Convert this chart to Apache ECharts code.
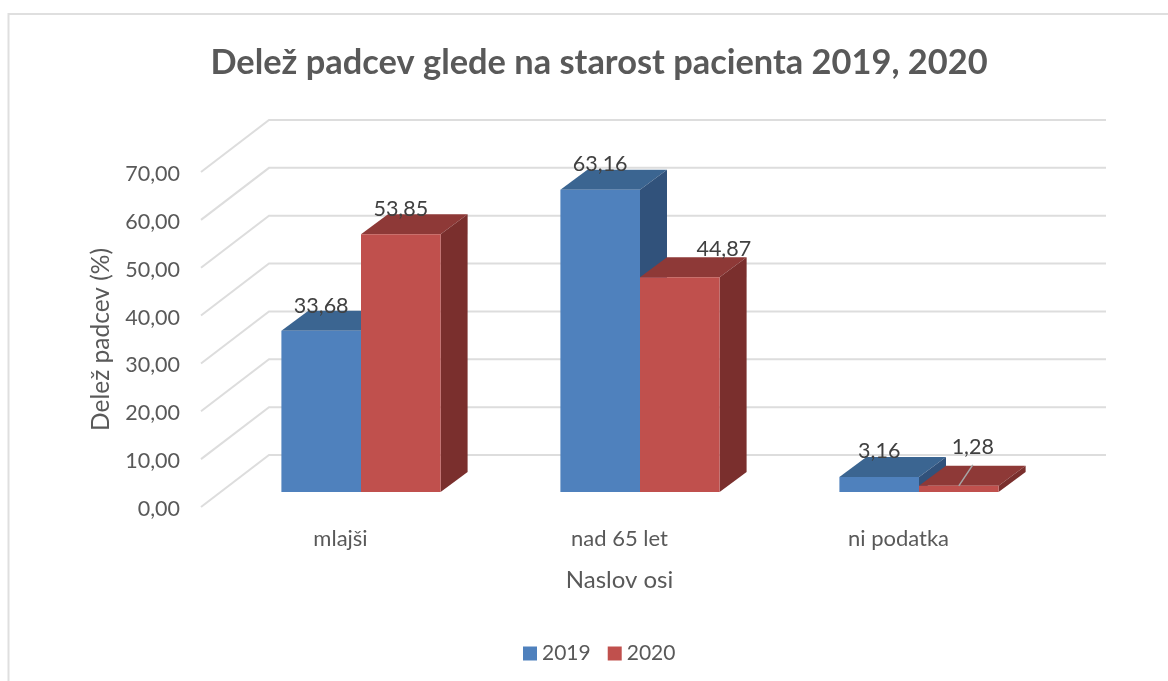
<!DOCTYPE html>
<html>
<head>
<meta charset="utf-8">
<style>html,body{margin:0;padding:0;background:#fff}#c{width:1168px;height:681px}</style>
<script src="https://cdn.jsdelivr.net/npm/echarts@6/dist/echarts.min.js"></script>
</head>
<body>
<div id="c"></div>
<script>
const categories = ['mlajši', 'nad 65 let', 'ni podatka'];
const values2019 = [33.68, 63.16, 3.16];
const values2020 = [53.85, 44.87, 1.28];
const yTicks = [0, 10, 20, 30, 40, 50, 60, 70];
const titleText = 'Delež padcev glede na starost pacienta 2019, 2020';

const FONT = 'Lato, sans-serif';
const DEPTH = {wall: [68, -52], bar: [27, -20], base: [0, -15]};
const BAR_W = 79.6;
const GROUP_DX = 20.5;
const labelShift2019 = [[0, -25], [0, -26], [0, -26]];
const labelShift2020 = [[0, -25], [44, -28], [14, -39]];
const fmt = v => v.toFixed(2).replace('.', ',');

function barSeries(name, values, side, colors, shift) {
  return {
    name, type: 'custom', coordinateSystem: 'cartesian2d', z: 3 + side,
    itemStyle: {color: colors.front},
    data: values.map((v, i) => [i, v]),
    renderItem(params, api) {
      const i = api.value(0), v = api.value(1);
      const top = api.coord([i, v]), bot = api.coord([i, 0]);
      const x0 = top[0] + GROUP_DX + (side - 1) * BAR_W, x1 = x0 + BAR_W;
      const y0 = top[1] + DEPTH.base[1], y1 = bot[1] + DEPTH.base[1];
      const [dx, dy] = DEPTH.bar;
      const s = shift[i];
      const poly = (points, fill) => ({type: 'polygon', shape: {points}, style: {fill, stroke: null}});
      const children = [
        poly([[x0, y0], [x1, y0], [x1 + dx, y0 + dy], [x0 + dx, y0 + dy]], colors.top),
        poly([[x1, y0], [x1 + dx, y0 + dy], [x1 + dx, y1 + dy], [x1, y1]], colors.side),
        {type: 'rect', shape: {x: x0, y: y0, width: BAR_W, height: y1 - y0}, style: {fill: colors.front}},
        {type: 'text', z2: 50, style: {
          text: fmt(v), x: (x0 + x1) / 2 + s[0], y: y0 + s[1], align: 'center', verticalAlign: 'middle',
          fill: '#404040', font: '21.5px ' + FONT
        }}
      ];
      if (s[0] === 14) {
        children.push({type: 'line', z2: 40, shape: {x1: x0 + BAR_W / 2 + 14, y1: y0 - 21, x2: x0 + BAR_W / 2, y2: y0},
          style: {stroke: '#A6A6A6', lineWidth: 1.5}});
      }
      return {type: 'group', children};
    }
  };
}

const chart = echarts.init(document.getElementById('c'), null, {renderer: 'canvas'});
chart.setOption({
  backgroundColor: '#fff',
  animation: false,
  title: {
    text: titleText, left: 594, top: 41, textAlign: 'center',
    textStyle: {fontFamily: FONT, fontWeight: 'bold', fontSize: 34.4, color: '#595959'}
  },
  legend: {
    data: ['2019', '2020'], left: 518, top: 638, itemWidth: 14, itemHeight: 14, itemGap: 17,
    icon: 'rect', selectedMode: false,
    textStyle: {fontFamily: FONT, fontSize: 21, color: '#595959'}
  },
  grid: {left: 201, top: 172, width: 837, height: 335, containLabel: false},
  xAxis: {
    type: 'category', data: categories,
    axisLine: {show: false}, axisTick: {show: false},
    axisLabel: {fontFamily: FONT, fontSize: 22, color: '#595959', margin: 21},
    name: 'Naslov osi', nameLocation: 'middle', nameGap: 61,
    nameTextStyle: {fontFamily: FONT, fontSize: 24, color: '#595959'}
  },
  yAxis: {
    type: 'value', min: 0, max: 70, interval: 10,
    axisLine: {show: false}, axisTick: {show: false}, splitLine: {show: false},
    axisLabel: {
      margin: 21, formatter: v => '{t|' + fmt(v) + '}',
      rich: {t: {fontFamily: FONT, fontSize: 21.5, color: '#595959', padding: [4, 0, 0, 0]}}
    },
    name: 'Delež padcev (%)', nameLocation: 'middle', nameGap: 87, nameRotate: 90,
    nameTextStyle: {fontFamily: FONT, fontSize: 24.5, color: '#595959'}
  },
  graphic: [{
    type: 'rect', silent: true, z: -10,
    shape: {x: 8.5, y: 14, width: 1200, height: 720},
    style: {fill: 'none', stroke: '#DFDFDF', lineWidth: 2}
  }],
  series: [
    {
      name: 'walls', type: 'custom', coordinateSystem: 'cartesian2d', z: 1, silent: true,
      data: yTicks.map(t => [0, t]),
      renderItem(params, api) {
        const y = api.coord([0, api.value(1)])[1];
        const L = params.coordSys.x, R = L + params.coordSys.width;
        const [dx, dy] = DEPTH.wall;
        return {type: 'polyline', shape: {points: [[L, y], [L + dx, y + dy], [R + dx, y + dy]]},
          style: {stroke: '#DDDDDD', lineWidth: 2, fill: null}};
      }
    },
    barSeries('2019', values2019, 0, {front: '#4F81BD', top: '#3B6591', side: '#31527B'}, labelShift2019),
    barSeries('2020', values2020, 1, {front: '#C0504D', top: '#8E3937', side: '#7A2F2D'}, labelShift2020)
  ]
});
</script>
</body>
</html>
